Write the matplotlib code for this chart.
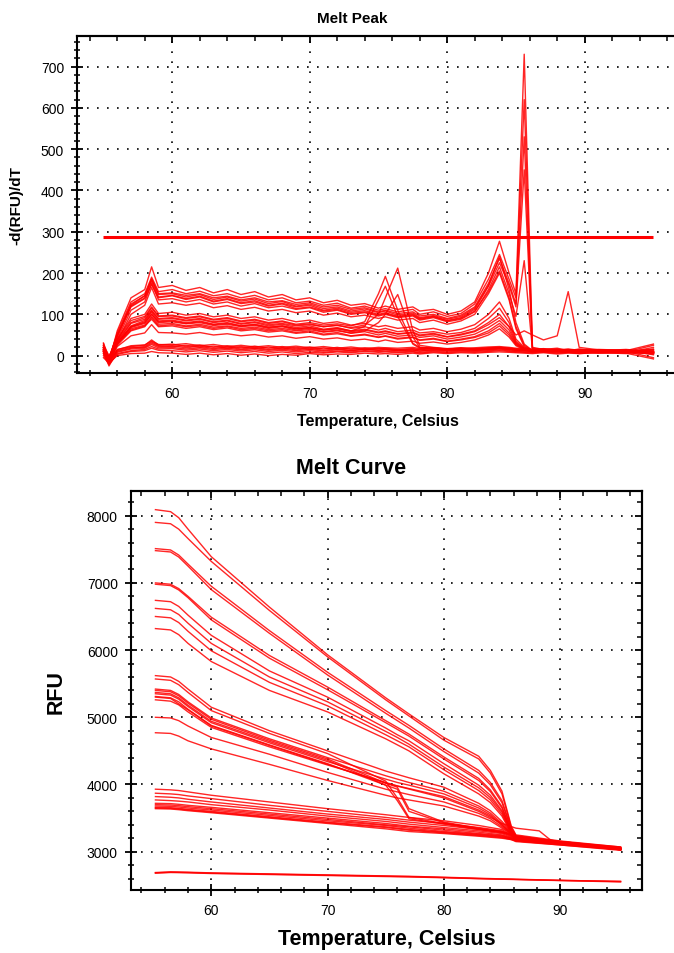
import matplotlib
matplotlib.use("Agg")
import matplotlib.pyplot as plt
from matplotlib.ticker import MultipleLocator

plt.rcParams["font.family"] = ["Liberation Sans", "DejaVu Sans"]

# ---------------- Melt Peak: -d(RFU)/dT ----------------
PEAK_TEMP = [55.0, 55.4, 56, 57, 58, 58.5, 59, 60, 61, 62, 63, 64, 65, 66, 67, 68, 69, 70,
             71, 72, 73, 74, 75, 75.5, 76.4, 77.5, 78, 79, 80, 81, 82, 83, 83.8, 84.5, 85,
             85.6, 86.2, 87, 88, 88.8, 89.6, 91, 93, 95]

# upper group (sharp peak at 85.6 for the first five)
PEAK_UPPER = [
    [20, -15, 60, 140, 160, 215, 165, 170, 158, 165, 152, 160, 148, 155, 142, 148, 135, 140, 128, 134, 122, 126,
     115, 120, 112, 118, 108, 112, 100, 108, 130, 200, 277, 200, 150, 730, 20, 15, 18, 12, 16, 12, 15, 10],
    [20, -10, 55, 130, 150, 190, 155, 160, 150, 156, 145, 150, 140, 146, 135, 140, 128, 132, 122, 127, 115, 120,
     110, 114, 106, 112, 100, 106, 95, 102, 125, 185, 245, 185, 140, 620, 18, 14, 16, 12, 15, 11, 14, 9],
    [15, -5, 50, 125, 145, 185, 150, 152, 146, 150, 140, 144, 135, 140, 130, 133, 124, 128, 118, 122, 112, 116,
     106, 110, 102, 106, 96, 100, 90, 98, 118, 175, 235, 175, 125, 530, 16, 13, 15, 11, 14, 10, 13, 8],
    [10, -8, 45, 120, 140, 180, 142, 146, 138, 144, 132, 138, 128, 133, 122, 127, 118, 122, 110, 115, 105, 109,
     100, 104, 95, 100, 90, 95, 85, 92, 112, 168, 225, 170, 118, 450, 15, 12, 14, 10, 13, 9, 12, 7],
    [25, -12, 40, 110, 130, 175, 135, 138, 130, 136, 125, 130, 120, 126, 116, 120, 112, 116, 105, 110, 100, 104,
     96, 100, 92, 96, 86, 92, 82, 88, 106, 160, 215, 150, 95, 230, 14, 11, 13, 10, 12, 9, 11, 7],
    [30, -5, 50, 118, 138, 172, 140, 145, 136, 142, 130, 136, 126, 130, 120, 125, 114, 118, 108, 112, 102, 106,
     98, 102, 94, 98, 88, 94, 84, 90, 108, 155, 205, 140, 70, 25, 12, 14, 12, 10, 13, 9, 12, 8],
    [12, -15, 35, 100, 122, 165, 125, 128, 122, 127, 116, 121, 112, 117, 108, 112, 104, 108, 98, 103, 94, 98,
     90, 94, 86, 90, 80, 86, 76, 84, 100, 150, 200, 135, 65, 22, 11, 13, 11, 9, 12, 8, 11, 6],
    [18, -8, 48, 122, 145, 185, 148, 150, 142, 148, 136, 142, 132, 137, 126, 131, 120, 125, 114, 118, 108, 113,
     104, 108, 98, 103, 92, 97, 88, 95, 115, 170, 240, 160, 80, 28, 12, 14, 12, 11, 13, 10, 12, 9],
]

PEAK_MIDDLE = [
    [15, -10, 40, 90, 100, 125, 102, 105, 98, 102, 94, 98, 90, 94, 86, 90, 82, 86, 78, 82, 74, 78,
     70, 73, 66, 70, 62, 66, 58, 64, 75, 100, 130, 90, 40, 20, 14, 12, 14, 10, 13, 9, 12, 8],
    [20, -5, 35, 80, 92, 115, 95, 96, 90, 94, 86, 90, 82, 86, 78, 82, 74, 77, 70, 74, 66, 70,
     62, 66, 58, 62, 55, 58, 52, 56, 66, 90, 115, 80, 35, 18, 13, 12, 13, 10, 12, 9, 11, 7],
    [10, -12, 30, 72, 85, 108, 88, 90, 84, 88, 80, 84, 76, 80, 72, 76, 68, 72, 64, 68, 60, 64,
     57, 60, 53, 57, 50, 54, 46, 52, 60, 80, 100, 70, 32, 17, 12, 11, 13, 9, 11, 8, 10, 6],
    [25, 0, 30, 68, 78, 100, 80, 82, 77, 80, 73, 76, 70, 73, 66, 70, 62, 66, 58, 62, 54, 58,
     50, 54, 47, 50, 44, 48, 40, 45, 52, 68, 85, 62, 30, 16, 12, 11, 12, 9, 11, 8, 10, 6],
    [5, -18, 25, 60, 70, 92, 72, 75, 70, 73, 66, 70, 63, 66, 60, 63, 56, 60, 52, 56, 48, 52,
     45, 48, 42, 45, 38, 42, 35, 40, 46, 60, 78, 55, 28, 15, 11, 10, 12, 9, 10, 7, 9, 5],
    [18, -6, 28, 62, 72, 88, 70, 72, 66, 70, 63, 67, 60, 63, 57, 60, 54, 57, 50, 53, 47, 50,
     44, 47, 40, 44, 37, 40, 34, 38, 44, 55, 72, 50, 26, 15, 11, 10, 11, 8, 10, 7, 9, 5],
    [12, -14, 22, 48, 55, 75, 56, 55, 52, 56, 50, 53, 48, 51, 45, 48, 42, 46, 40, 43, 37, 40,
     34, 38, 32, 35, 30, 33, 28, 32, 38, 50, 65, 45, 24, 14, 10, 9, 11, 8, 9, 6, 8, 4],
]

# curves melting early (peaks near 75.5 and 76.4)
PEAK_EARLY = [
    [15, -10, 38, 85, 95, 118, 96, 98, 92, 96, 88, 92, 84, 88, 80, 84, 76, 80, 74, 77, 72, 82,
     150, 192, 110, 30, 20, 18, 16, 18, 15, 17, 19, 17, 15, 14, 13, 15, 12, 14, 11, 13, 11, 12],
    [10, -15, 32, 78, 88, 110, 90, 92, 86, 90, 82, 86, 78, 82, 75, 78, 72, 75, 70, 73, 68, 74,
     100, 140, 212, 60, 25, 20, 17, 19, 16, 18, 20, 18, 16, 14, 13, 15, 12, 14, 11, 13, 10, 14],
    [20, -8, 30, 70, 80, 100, 82, 84, 78, 82, 75, 78, 72, 75, 68, 72, 65, 68, 62, 66, 60, 70,
     135, 168, 95, 28, 18, 17, 15, 17, 14, 16, 18, 16, 14, 13, 12, 14, 11, 13, 10, 12, 10, 8],
    [8, -16, 28, 65, 74, 95, 76, 78, 72, 76, 69, 72, 66, 69, 63, 66, 60, 63, 57, 60, 55, 60,
     80, 100, 148, 45, 20, 18, 16, 17, 15, 16, 18, 16, 14, 13, 12, 13, 11, 13, 10, 12, 9, 16],
]

# curve with an extra product peaking near 88.8
PEAK_LATE = [12, -12, 30, 70, 82, 105, 84, 86, 80, 84, 76, 80, 72, 76, 69, 72, 65, 68, 62, 65, 58, 62,
             55, 58, 52, 55, 48, 52, 45, 50, 58, 75, 92, 70, 50, 60, 50, 38, 48, 155, 20, 14, 12, 10]

PEAK_BASE = [
    [30, -20, 15, 22, 25, 38, 26, 28, 22, 26, 20, 24, 19, 23, 18, 22, 17, 21, 16, 20, 15, 19,
     16, 18, 15, 17, 14, 18, 15, 17, 16, 19, 20, 18, 16, 15, 14, 16, 13, 15, 12, 14, 12, 28],
    [10, -25, 10, 18, 22, 33, 24, 22, 25, 20, 23, 18, 22, 17, 21, 16, 20, 15, 19, 15, 18, 14,
     17, 16, 14, 16, 15, 13, 16, 14, 17, 18, 19, 16, 15, 14, 13, 15, 12, 14, 11, 13, 10, -5],
    [20, -15, 12, 20, 20, 30, 22, 24, 19, 23, 17, 21, 16, 20, 15, 19, 14, 18, 13, 17, 12, 16,
     13, 15, 12, 14, 11, 15, 12, 14, 13, 15, 17, 15, 13, 12, 11, 13, 10, 12, 9, 12, 10, 15],
    [0, -22, 5, 12, 15, 22, 16, 17, 13, 16, 12, 15, 11, 14, 10, 13, 9, 12, 8, 11, 9, 12,
     10, 11, 9, 10, 8, 11, 9, 11, 10, 12, 14, 12, 10, 9, 8, 10, 7, 9, 6, 9, 7, 20],
    [25, -10, 14, 24, 26, 35, 27, 26, 29, 24, 27, 22, 25, 21, 24, 20, 23, 19, 22, 18, 21, 17,
     20, 19, 18, 20, 17, 19, 16, 18, 19, 21, 22, 20, 18, 16, 15, 17, 14, 16, 13, 15, 13, 2],
    [-5, -18, 0, 5, 6, 10, 7, 6, 3, 6, 2, 5, 1, 4, 0, 3, 1, 5, 2, 4, 3, 6,
     4, 5, 3, 6, 4, 7, 5, 7, 6, 8, 9, 8, 7, 6, 5, 7, 4, 6, 5, 7, 5, 10],
    [15, -12, 8, 16, 18, 27, 19, 20, 16, 19, 15, 18, 14, 17, 13, 16, 12, 15, 11, 14, 12, 15,
     13, 14, 12, 13, 11, 14, 12, 13, 12, 14, 16, 14, 12, 11, 10, 12, 9, 11, 8, 10, 9, 25],
    [5, -20, 3, 10, 12, 18, 13, 12, 9, 12, 8, 11, 7, 10, 6, 9, 5, 8, 6, 9, 7, 10,
     8, 9, 7, 9, 6, 9, 7, 9, 8, 10, 12, 10, 9, 8, 7, 9, 6, 8, 5, 8, 6, -8],
]

THRESHOLD = 288
THRESHOLD_SPAN = [55.0, 95.0]

# ---------------- Melt Curve: RFU ----------------
CURVE_TEMP = [55.2, 56.5, 57.2, 58, 60, 65, 70, 75, 76, 77, 80, 83, 84, 85, 85.8, 86.2, 90, 95.2]

CURVE_HIGH = [
    [8090, 8060, 7970, 7800, 7390, 6640, 5930, 5290, 5170, 5050, 4700, 4420, 4210, 3900, 3380, 3250, 3160, 3070],
    [7900, 7880, 7800, 7660, 7320, 6590, 5900, 5260, 5140, 5020, 4660, 4380, 4170, 3860, 3360, 3240, 3150, 3060],
    [7510, 7490, 7415, 7280, 6950, 6290, 5670, 5100, 4990, 4880, 4530, 4210, 4030, 3760, 3340, 3230, 3150, 3060],
    [7480, 7460, 7385, 7250, 6900, 6250, 5630, 5060, 4950, 4840, 4490, 4170, 3995, 3730, 3330, 3220, 3140, 3050],
    [7000, 6980, 6915, 6800, 6490, 5920, 5450, 4950, 4850, 4750, 4410, 4090, 3920, 3670, 3310, 3220, 3140, 3050],
    [6980, 6960, 6895, 6780, 6450, 5880, 5410, 4920, 4820, 4720, 4380, 4060, 3895, 3650, 3300, 3210, 3130, 3040],
    [6740, 6720, 6650, 6520, 6220, 5690, 5300, 4840, 4740, 4650, 4310, 3990, 3840, 3610, 3300, 3210, 3130, 3040],
    [6620, 6600, 6530, 6400, 6100, 5600, 5230, 4790, 4700, 4600, 4260, 3950, 3805, 3590, 3290, 3200, 3130, 3040],
    [6500, 6480, 6410, 6280, 5990, 5520, 5170, 4740, 4650, 4560, 4220, 3910, 3770, 3560, 3280, 3200, 3120, 3030],
    [6320, 6300, 6230, 6100, 5830, 5400, 5080, 4680, 4590, 4500, 4160, 3860, 3730, 3530, 3270, 3190, 3120, 3030],
]

CURVE_MID = [
    [5620, 5600, 5535, 5420, 5150, 4800, 4500, 4200, 4150, 4100, 3960, 3720, 3610, 3450, 3290, 3230, 3140, 3050],
    [5570, 5550, 5485, 5370, 5100, 4760, 4460, 4050, 3800, 3510, 3420, 3340, 3315, 3290, 3260, 3220, 3130, 3040],
    [5420, 5400, 5340, 5230, 4990, 4680, 4400, 4130, 4080, 4030, 3900, 3680, 3575, 3420, 3280, 3220, 3130, 3040],
    [5400, 5380, 5320, 5210, 4970, 4660, 4380, 4020, 3960, 3640, 3440, 3350, 3325, 3300, 3260, 3220, 3130, 3040],
    [5370, 5350, 5290, 5180, 4940, 4640, 4360, 3990, 3760, 3490, 3410, 3330, 3305, 3280, 3250, 3210, 3120, 3040],
    [5350, 5330, 5270, 5160, 4920, 4620, 4340, 4080, 4030, 3990, 3860, 3650, 3550, 3400, 3270, 3210, 3130, 3040],
    [5310, 5290, 5230, 5120, 4880, 4590, 4310, 3990, 3930, 3600, 3430, 3340, 3315, 3290, 3250, 3210, 3120, 3040],
    [5260, 5240, 5185, 5080, 4850, 4560, 4290, 4030, 3980, 3940, 3820, 3620, 3530, 3390, 3270, 3210, 3120, 3030],
    [5000, 4990, 4950, 4870, 4700, 4450, 4180, 3930, 3890, 3850, 3740, 3570, 3490, 3370, 3260, 3200, 3120, 3030],
    [4770, 4760, 4720, 4650, 4530, 4300, 4060, 3840, 3800, 3770, 3680, 3530, 3460, 3350, 3260, 3200, 3120, 3030],
]

CURVE_LOW = [
    [3930, 3920, 3910, 3890, 3840, 3740, 3640, 3550, 3530, 3510, 3460, 3390, 3360, 3330, 3240, 3200, 3150, 3070],
    [3870, 3860, 3850, 3830, 3790, 3690, 3600, 3510, 3490, 3470, 3420, 3360, 3335, 3310, 3230, 3190, 3140, 3060],
    [3820, 3810, 3800, 3780, 3740, 3650, 3560, 3480, 3460, 3440, 3390, 3330, 3310, 3290, 3220, 3190, 3130, 3060],
    [3770, 3760, 3752, 3740, 3700, 3620, 3530, 3450, 3430, 3410, 3360, 3310, 3290, 3270, 3210, 3180, 3130, 3050],
    [3720, 3715, 3705, 3690, 3660, 3580, 3500, 3420, 3400, 3380, 3340, 3290, 3270, 3250, 3200, 3180, 3120, 3050],
    [3700, 3695, 3685, 3670, 3640, 3560, 3480, 3400, 3385, 3370, 3320, 3270, 3255, 3240, 3200, 3170, 3120, 3040],
    [3680, 3675, 3665, 3650, 3620, 3540, 3460, 3390, 3370, 3350, 3300, 3260, 3245, 3230, 3190, 3170, 3110, 3040],
    [3660, 3655, 3645, 3630, 3600, 3520, 3440, 3370, 3350, 3330, 3290, 3250, 3235, 3220, 3190, 3160, 3110, 3030],
    [3650, 3645, 3635, 3620, 3590, 3510, 3430, 3360, 3340, 3320, 3280, 3240, 3225, 3210, 3180, 3160, 3100, 3030],
    [3640, 3635, 3625, 3610, 3580, 3500, 3420, 3340, 3320, 3300, 3270, 3230, 3215, 3200, 3180, 3150, 3100, 3020],
]

CURVE_FLOOR = [
    [2690, 2700, 2698, 2695, 2685, 2670, 2655, 2640, 2637, 2634, 2620, 2605, 2600, 2595, 2592, 2590, 2575, 2555],
    [2680, 2690, 2688, 2685, 2675, 2660, 2645, 2630, 2627, 2624, 2612, 2598, 2594, 2590, 2587, 2585, 2570, 2550],
    [2685, 2695, 2693, 2690, 2680, 2665, 2650, 2635, 2632, 2629, 2616, 2600, 2596, 2592, 2590, 2588, 2572, 2560],
]

CURVE_LATE_TEMP = [55.2, 56.5, 58, 60, 65, 70, 75, 80, 83, 85, 86.2, 88.2, 89.2, 95.2]
CURVE_LATE = [5300, 5280, 5110, 4870, 4580, 4300, 4020, 3800, 3600, 3420, 3350, 3310, 3170, 3050]

RED = "#ff0000"
LW = 1.0


def style_axes(ax, xlim, ylim, ymajor, yminor, right_ticks):
    ax.set_xlim(*xlim)
    ax.set_ylim(*ylim)
    ax.xaxis.set_major_locator(MultipleLocator(10))
    ax.xaxis.set_minor_locator(MultipleLocator(2))
    ax.yaxis.set_major_locator(MultipleLocator(ymajor))
    ax.yaxis.set_minor_locator(MultipleLocator(yminor))
    ax.grid(True, which="major", color="black", linestyle=(0, (1, 5)), linewidth=1.2)
    ax.tick_params(which="major", direction="inout", length=9, width=1.3,
                   labelsize=10, pad=5, colors="black")
    ax.tick_params(which="minor", direction="inout", length=5, width=1.1)
    for sp in ax.spines.values():
        sp.set_linewidth(1.5)

    top = ax.secondary_xaxis("top")
    top.xaxis.set_major_locator(MultipleLocator(10))
    top.xaxis.set_minor_locator(MultipleLocator(2))
    top.tick_params(which="major", direction="in", length=5, width=1.3, labeltop=False)
    top.tick_params(which="minor", direction="in", length=3.5, width=1.1)
    top.spines["top"].set_linewidth(1.5)

    if right_ticks:
        right = ax.secondary_yaxis("right")
        right.yaxis.set_major_locator(MultipleLocator(ymajor))
        right.yaxis.set_minor_locator(MultipleLocator(yminor))
        right.tick_params(which="major", direction="in", length=5, width=1.3, labelright=False)
        right.tick_params(which="minor", direction="in", length=3.5, width=1.1)
        right.spines["right"].set_linewidth(1.5)


fig = plt.figure(figsize=(6.74, 9.54), dpi=100)

# ---- top: melt peak ----
ax1 = fig.add_axes([0.1148, 0.608, 0.8955, 0.3536])
for group in (PEAK_BASE, PEAK_MIDDLE, PEAK_EARLY, PEAK_UPPER):
    for row in group:
        ax1.plot(PEAK_TEMP, row, color=RED, lw=LW, alpha=0.85)
ax1.plot(PEAK_TEMP, PEAK_LATE, color=RED, lw=LW, alpha=0.85)
ax1.hlines(THRESHOLD, THRESHOLD_SPAN[0], THRESHOLD_SPAN[1], color=RED, lw=2.2)
style_axes(ax1, (53.1, 97.0), (-42, 775), 100, 20, right_ticks=False)

fig.text(0.523, 0.980, "Melt Peak", ha="center", va="center", fontsize=11, fontweight="bold")
fig.text(0.561, 0.5587, "Temperature, Celsius", ha="center", va="center", fontsize=11.5,
         fontweight="bold")
fig.text(0.025, 0.785, "-d(RFU)/dT", ha="center", va="center", rotation=90, fontsize=11,
         fontweight="bold")

# ---- bottom: melt curve ----
ax2 = fig.add_axes([0.1944, 0.0664, 0.7574, 0.4182])
for group in (CURVE_FLOOR, CURVE_LOW, CURVE_MID, CURVE_HIGH):
    for row in group:
        ax2.plot(CURVE_TEMP, row, color=RED, lw=LW, alpha=0.85)
ax2.plot(CURVE_LATE_TEMP, CURVE_LATE, color=RED, lw=LW, alpha=0.85)
style_axes(ax2, (53.1, 97.0), (2435, 8372), 1000, 200, right_ticks=True)

fig.text(0.521, 0.5094, "Melt Curve", ha="center", va="center", fontsize=15.5, fontweight="bold")
fig.text(0.574, 0.0147, "Temperature, Celsius", ha="center", va="center", fontsize=15.5,
         fontweight="bold")
fig.text(0.083, 0.275, "RFU", ha="center", va="center", rotation=90, fontsize=15.5,
         fontweight="bold")

fig.savefig("out.png", dpi=100)
